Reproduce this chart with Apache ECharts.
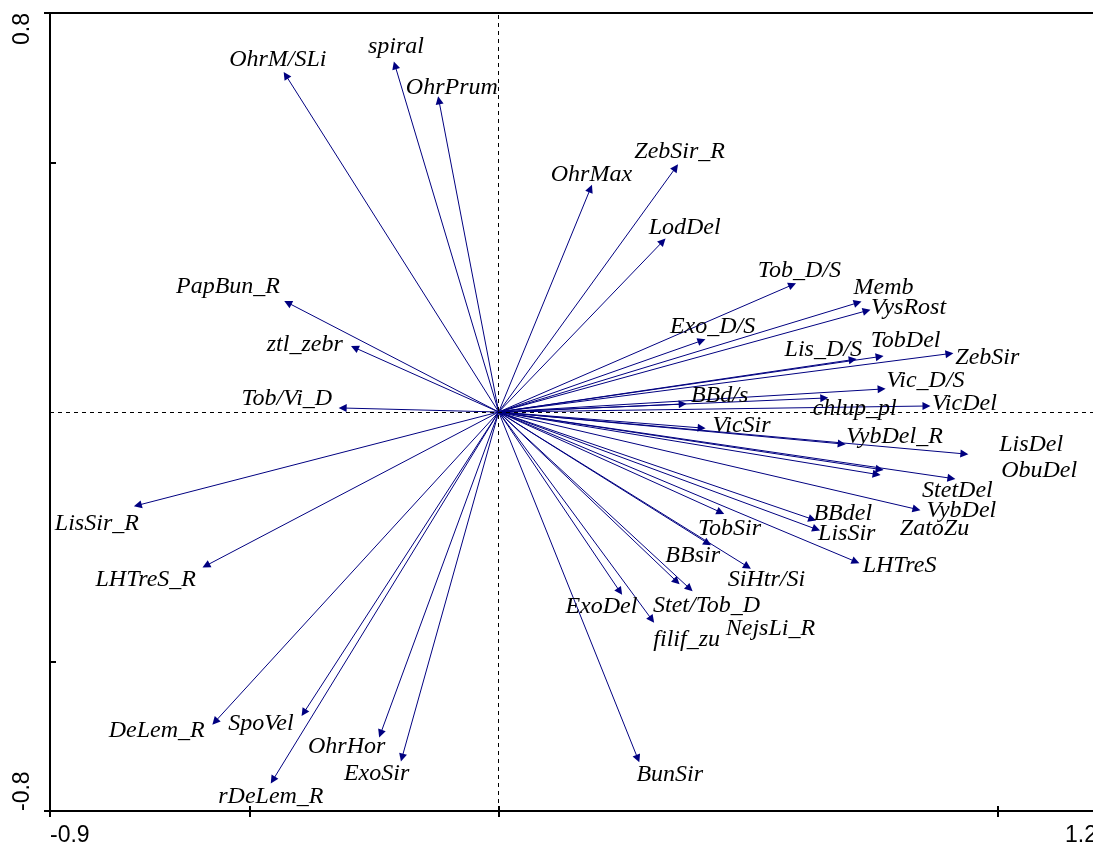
<!DOCTYPE html>
<html><head><meta charset="utf-8">
<script src="https://cdn.jsdelivr.net/npm/echarts@6/dist/echarts.min.js"></script>
<style>html,body{margin:0;padding:0;background:#fff}#c{width:1093px;height:849px}</style>
</head><body><div id="c"></div>
<script>
// Variable names
const names = ['OhrM/SLi','spiral','OhrPrum','OhrMax','ZebSir_R','LodDel','Tob_D/S','Memb','VysRost','Exo_D/S',
  'Lis_D/S','TobDel','ZebSir','Vic_D/S','BBd/s','chlup_pl','VicDel','VicSir','VybDel_R','LisDel',
  'ObuDel','StetDel','ZatoZu','VybDel','BBdel','LisSir','TobSir','LHTreS','BBsir','SiHtr/Si',
  'Stet/Tob_D','NejsLi_R','filif_zu','ExoDel','BunSir','PapBun_R','ztl_zebr','Tob/Vi_D','LisSir_R','LHTreS_R',
  'DeLem_R','SpoVel','rDeLem_R','OhrHor','ExoSir'];
// Arrow tips (axis 1 scores)
const arrowX = [-0.427,-0.208,-0.120,0.184,0.355,0.329,0.589,0.720,0.738,0.407,
  0.710,0.764,0.904,0.768,0.369,0.653,0.858,0.407,0.688,0.934,
  0.908,0.764,0.758,0.838,0.629,0.637,0.445,0.716,0.419,0.499,
  0.357,0.383,0.307,0.243,0.279,-0.423,-0.289,-0.313,-0.724,-0.587,
  -0.569,-0.391,-0.453,-0.237,-0.194];
// Arrow tips (axis 2 scores)
const arrowY = [0.675,0.695,0.625,0.448,0.490,0.342,0.255,0.219,0.203,0.143,
  0.105,0.111,0.117,0.046,0.016,0.028,0.012,-0.032,-0.064,-0.084,
  -0.133,-0.115,-0.125,-0.195,-0.215,-0.235,-0.201,-0.300,-0.263,-0.310,
  -0.340,-0.354,-0.416,-0.360,-0.695,0.219,0.129,0.008,-0.187,-0.308,
  -0.621,-0.603,-0.738,-0.645,-0.693];
// Label anchor points (data units)
const labelX = [-0.443,-0.206,-0.094,0.186,0.363,0.373,0.603,0.772,0.822,0.429,
  0.651,0.816,0.980,0.856,0.443,0.714,0.934,0.487,0.794,1.068,
  1.084,0.920,0.874,0.928,0.690,0.698,0.463,0.804,0.389,0.537,
  0.417,0.545,0.377,0.206,0.343,-0.543,-0.389,-0.425,-0.806,-0.708,
  -0.686,-0.477,-0.457,-0.305,-0.245];
const labelY = [0.706,0.732,0.651,0.476,0.521,0.370,0.283,0.249,0.209,0.171,
  0.125,0.143,0.109,0.062,0.032,0.006,0.016,-0.028,-0.050,-0.066,
  -0.117,-0.157,-0.233,-0.197,-0.203,-0.243,-0.233,-0.308,-0.289,-0.336,
  -0.388,-0.434,-0.456,-0.390,-0.728,0.251,0.135,0.026,-0.223,-0.336,
  -0.639,-0.625,-0.772,-0.671,-0.726];
const xTickLabels = [-0.9, 1.2];
const yTickLabels = [-0.8, 0.8];
const xTicksOut = [-0.9, -0.5, 0, 1.0];
const xTicksIn = [-0.5, 0, 1.0];
const yTicksOut = [-0.8, 0.8];
const yTicksIn = [-0.5, 0.5];

const chart = echarts.init(document.getElementById('c'), null, {renderer: 'canvas'});
const navy = '#000080';
const option = {
  animation: false,
  grid: {left: 50, top: 13, right: -4, bottom: 38, show: true, borderColor: '#000', borderWidth: 2,
    backgroundColor: 'transparent', outerBoundsMode: 'none', containLabel: false},
  xAxis: [{
    type: 'value', min: -0.9, max: 1.2, position: 'bottom',
    splitLine: {show: false},
    axisLine: {onZero: false, lineStyle: {color: '#000', width: 2}},
    axisTick: {customValues: xTicksOut, length: 6, lineStyle: {color: '#000', width: 2}},
    axisLabel: {customValues: xTickLabels, fontSize: 23, fontFamily: 'Liberation Sans', color: '#000', margin: 13,
      alignMinLabel: 'left', alignMaxLabel: 'right', formatter: v => String(v)}
  }, {
    type: 'value', min: -0.9, max: 1.2, position: 'bottom',
    splitLine: {show: false},
    axisLine: {show: false, onZero: false},
    axisTick: {customValues: xTicksIn, inside: true, length: 5, lineStyle: {color: '#000', width: 2}},
    axisLabel: {show: false}
  }],
  yAxis: [{
    type: 'value', min: -0.8, max: 0.8, position: 'left',
    splitLine: {show: false},
    axisLine: {onZero: false, lineStyle: {color: '#000', width: 2}},
    axisTick: {customValues: yTicksOut, length: 6, lineStyle: {color: '#000', width: 2}},
    axisLabel: {customValues: yTickLabels, rotate: 90, fontSize: 23, fontFamily: 'Liberation Sans', color: '#000', margin: 16,
      alignMinLabel: 'left', alignMaxLabel: 'right', formatter: v => String(v)}
  }, {
    type: 'value', min: -0.8, max: 0.8, position: 'left',
    splitLine: {show: false},
    axisLine: {show: false, onZero: false},
    axisTick: {customValues: yTicksIn, inside: true, length: 6, lineStyle: {color: '#000', width: 2}},
    axisLabel: {show: false}
  }],
  series: [{
    type: 'scatter',
    silent: true,
    symbolSize: 0,
    itemStyle: {color: 'rgba(0,0,0,0)'},
    data: names.map((n, i) => ({name: n, value: [labelX[i], labelY[i]]})),
    label: {show: true, position: 'inside', formatter: '{b}', fontFamily: 'Liberation Serif', fontStyle: 'italic',
      fontSize: 24, color: '#000', opacity: 1, textBorderWidth: 0},
    labelLayout: {hideOverlap: false},
    markLine: {
      silent: true, symbol: 'none', animation: false,
      label: {show: false},
      lineStyle: {color: '#000', type: [4, 4], width: 1},
      emphasis: {disabled: true},
      data: [{xAxis: 0}, {yAxis: 0}]
    },
    z: 5
  }, {
    type: 'lines',
    coordinateSystem: 'cartesian2d',
    silent: true,
    symbol: ['none', 'triangle'],
    symbolSize: 8,
    lineStyle: {color: navy, width: 1, opacity: 1},
    itemStyle: {color: navy},
    data: names.map((n, i) => ({name: n, coords: [[0, 0], [arrowX[i], arrowY[i]]]})),
    z: 4
  }]
};
chart.setOption(option);
</script>
</body></html>
